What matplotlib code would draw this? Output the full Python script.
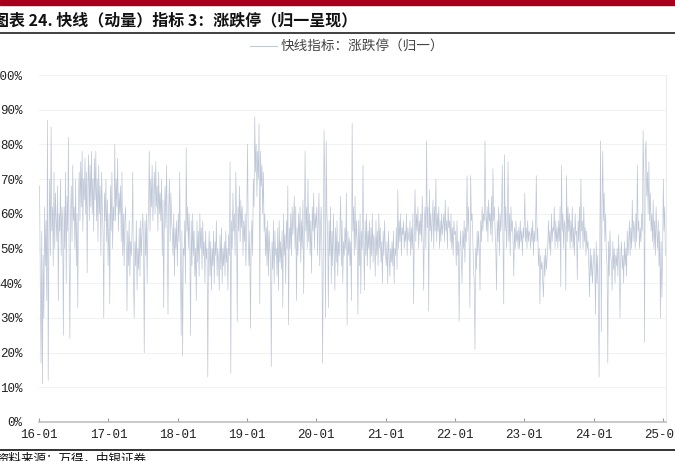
import matplotlib
matplotlib.use('Agg')
import matplotlib.pyplot as plt
import matplotlib.dates as mdates
from matplotlib.ticker import FuncFormatter
import pandas as pd
import numpy as np

plt.rcParams['font.family'] = ['Noto Sans CJK SC', 'DejaVu Sans']

title = '图表 24. 快线（动量）指标 3：涨跌停（归一呈现）'
series_name = '快线指标：涨跌停（归一）'
source = '资料来源：万得，中银证券'

# values in %, 8 readings per month
v2016 = [68, 40, 17, 55, 11, 48, 30, 62, 45, 58, 35, 87, 12, 52, 70, 48,
         85, 55, 62, 45, 72, 50, 66, 58, 52, 68, 35, 60, 55, 70, 48, 62,
         58, 25, 62, 50, 72, 40, 65, 55, 82, 48, 24, 60, 68, 52, 74, 58,
         62, 50, 70, 45, 60, 33, 66, 72, 58, 75, 62, 78, 55, 70, 64, 76,
         60, 72, 43, 68, 77, 58, 74, 62, 78, 60, 70, 55, 76, 64, 78, 58,
         70, 52, 74, 60, 68, 48, 72, 62, 55, 30, 66, 58, 70, 52, 64, 45]
v2017 = [60, 34, 68, 55, 72, 50, 62, 58, 80, 58, 70, 62, 76, 55, 66, 60,
         68, 52, 72, 48, 60, 45, 58, 62, 50, 32, 55, 45, 58, 42, 52, 48,
         55, 72, 40, 30, 52, 45, 58, 38, 50, 44, 56, 42, 58, 48, 55, 60,
         52, 20, 58, 48, 60, 40, 55, 62, 78, 55, 70, 62, 74, 58, 66, 72,
         60, 75, 62, 68, 55, 72, 60, 66, 58, 70, 48, 64, 33, 60, 68, 56,
         74, 55, 31, 62, 70, 52, 66, 58, 55, 48, 60, 42, 56, 50, 58, 45]
v2018 = [60, 52, 72, 45, 25, 55, 19, 50, 48, 58, 40, 79, 55, 62, 50, 60,
         52, 25, 58, 45, 60, 48, 55, 42, 50, 35, 58, 46, 55, 42, 60, 50,
         56, 44, 58, 48, 52, 40, 55, 47, 50, 13, 48, 55, 42, 52, 38, 50,
         45, 55, 40, 52, 48, 58, 42, 50, 46, 38, 54, 44, 56, 40, 50, 45,
         52, 42, 55, 46, 50, 38, 54, 48, 75, 14, 58, 50, 66, 55, 60, 48,
         72, 58, 29, 62, 55, 68, 52, 64, 56, 62, 48, 58, 52, 60, 45, 55]
v2019 = [80, 52, 45, 55, 27, 50, 58, 48, 70, 62, 88, 72, 80, 65, 78, 70,
         86, 34, 78, 68, 74, 60, 72, 55, 60, 48, 56, 45, 58, 42, 55, 50,
         45, 16, 52, 44, 58, 40, 55, 48, 50, 42, 56, 38, 58, 46, 52, 44,
         55, 33, 60, 48, 54, 40, 58, 50, 68, 28, 56, 50, 60, 48, 62, 54,
         58, 65, 50, 62, 35, 56, 48, 60, 52, 62, 46, 58, 50, 64, 37, 55,
         78, 55, 62, 50, 70, 52, 60, 48, 58, 43, 62, 55, 66, 50, 60, 56]
v2020 = [62, 48, 58, 66, 45, 55, 62, 50, 17, 52, 84, 70, 30, 81, 60, 55,
         33, 58, 48, 62, 40, 55, 45, 60, 50, 38, 56, 46, 58, 42, 52, 48,
         55, 65, 45, 58, 40, 52, 48, 56, 50, 66, 28, 55, 48, 53, 45, 52,
         35, 86, 55, 62, 48, 65, 50, 58, 52, 31, 58, 45, 60, 37, 55, 50,
         74, 52, 38, 58, 48, 60, 45, 55, 50, 58, 44, 56, 48, 60, 46, 54,
         52, 42, 58, 48, 55, 45, 60, 50, 56, 46, 52, 40, 55, 48, 58, 50]
v2021 = [45, 52, 40, 55, 48, 42, 50, 46, 52, 45, 55, 40, 50, 48, 56, 44,
         67, 50, 58, 52, 60, 48, 56, 54, 58, 50, 55, 52, 60, 48, 56, 53,
         52, 58, 48, 56, 50, 60, 34, 55, 67, 52, 60, 55, 62, 50, 58, 54,
         60, 52, 65, 55, 38, 58, 62, 50, 81, 56, 62, 32, 67, 55, 60, 52,
         58, 64, 50, 62, 55, 70, 52, 60, 55, 62, 50, 58, 52, 60, 54, 57,
         60, 52, 64, 55, 58, 50, 62, 56, 58, 52, 60, 50, 56, 48, 58, 54]
v2022 = [55, 45, 58, 48, 52, 29, 50, 55, 48, 40, 55, 50, 58, 46, 56, 52,
         71, 55, 62, 50, 33, 71, 58, 60, 52, 45, 40, 21, 50, 44, 55, 48,
         55, 50, 38, 58, 52, 62, 55, 60, 58, 81, 60, 55, 62, 52, 64, 58,
         60, 54, 65, 52, 73, 58, 62, 55, 50, 38, 58, 52, 62, 48, 60, 55,
         60, 74, 52, 34, 77, 55, 62, 50, 58, 75, 52, 60, 48, 62, 55, 58,
         52, 42, 56, 50, 58, 52, 55, 50, 56, 50, 58, 52, 55, 48, 56, 53]
v2023 = [66, 52, 56, 50, 58, 52, 55, 54, 50, 56, 52, 58, 48, 55, 52, 57,
         71, 52, 56, 45, 50, 34, 48, 44, 46, 40, 36, 48, 42, 50, 44, 47,
         52, 58, 50, 55, 48, 60, 52, 56, 55, 62, 50, 58, 52, 56, 50, 58,
         52, 62, 39, 74, 55, 60, 50, 58, 56, 38, 71, 52, 62, 55, 60, 50,
         58, 52, 62, 50, 56, 48, 60, 54, 55, 41, 58, 52, 62, 50, 70, 55,
         58, 50, 62, 52, 56, 48, 55, 50, 52, 45, 36, 50, 42, 48, 40, 45]
v2024 = [50, 45, 31, 52, 40, 48, 36, 13, 55, 81, 26, 62, 78, 58, 66, 52,
         60, 48, 45, 17, 52, 42, 55, 48, 46, 38, 52, 44, 50, 40, 48, 45,
         50, 42, 54, 46, 30, 48, 52, 44, 48, 40, 52, 45, 50, 42, 55, 48,
         52, 58, 48, 56, 50, 64, 52, 58, 55, 50, 60, 52, 74, 55, 58, 50,
         56, 52, 60, 55, 84, 70, 23, 78, 81, 65, 72, 60, 75, 58, 66, 55,
         60, 52, 64, 50, 58, 48, 62, 55, 50, 58, 45, 55, 30, 52, 36, 48]
v2025 = [70, 55, 62, 48]

yearly = {2016: v2016, 2017: v2017, 2018: v2018, 2019: v2019, 2020: v2020,
          2021: v2021, 2022: v2022, 2023: v2023, 2024: v2024}

dates = []
values = []
for yr, v in yearly.items():
    dates += list(pd.date_range(f'{yr}-01-04', f'{yr}-12-30', periods=len(v)))
    values += v
dates += list(pd.date_range('2025-01-03', '2025-01-14', periods=len(v2025)))
values += v2025
values = np.array(values) / 100.0

fig = plt.figure(figsize=(6.75, 4.61), dpi=100)
ax = fig.add_axes([39 / 675, 1 - 422 / 461, 627 / 675, 347 / 461])

ax.plot(dates, values, color='#a9b5ca', lw=0.5, alpha=0.75)

ax.set_ylim(0, 1)
ax.set_xlim(pd.Timestamp('2016-01-01'), pd.Timestamp('2025-01-17'))
ax.set_yticks(np.arange(0, 1.01, 0.1))
ax.yaxis.set_major_formatter(FuncFormatter(lambda v, p: f'{v * 100:.0f}%'))
ax.xaxis.set_major_locator(mdates.YearLocator())
ax.xaxis.set_major_formatter(mdates.DateFormatter('%y-%m'))
ax.grid(axis='y', color='#f2f2f2', lw=0.8)
ax.set_axisbelow(True)

for s in ['top', 'left']:
    ax.spines[s].set_visible(False)
ax.spines['right'].set_color('#ececec')
ax.spines['right'].set_linewidth(0.8)
ax.spines['bottom'].set_color('#bfbfbf')
ax.spines['bottom'].set_linewidth(1.2)
ax.tick_params(axis='y', length=0, pad=12, labelsize=9, labelcolor='#222222')
ax.tick_params(axis='x', direction='in', length=3, color='#999999', pad=5,
               labelsize=9, labelcolor='#222222')
for lab in ax.get_xticklabels() + ax.get_yticklabels():
    lab.set_fontfamily('Liberation Mono')

# header: red band, title, rule
fig.patches.append(plt.Rectangle((0, 1 - 5 / 461), 1, 5 / 461, transform=fig.transFigure,
                                 color='#a8001c', zorder=0))
fig.text(-7 / 675, 1 - 20 / 461, title, fontsize=11.5, fontweight='bold', va='center',
         ha='left', color='#111111')
fig.add_artist(plt.Line2D([0, 1], [1 - 33 / 461, 1 - 33 / 461], transform=fig.transFigure,
                          color='#333333', lw=1.3))

fig.legend([plt.Line2D([], [], color='#c3cad6', lw=0.8)], [series_name], loc='center',
           bbox_to_anchor=(347 / 675, 1 - 47 / 461), frameon=False, fontsize=9.8,
           handlelength=2.0, handletextpad=0.3, labelcolor='#444444')

# footer
fig.add_artist(plt.Line2D([0, 1], [1 - 450 / 461, 1 - 450 / 461], transform=fig.transFigure,
                          color='#222222', lw=1.3))
fig.text(-4 / 675, 1 - 453 / 461, source, fontsize=9, style='italic', va='top',
         ha='left', color='#111111')

fig.savefig('out.png', dpi=100)
